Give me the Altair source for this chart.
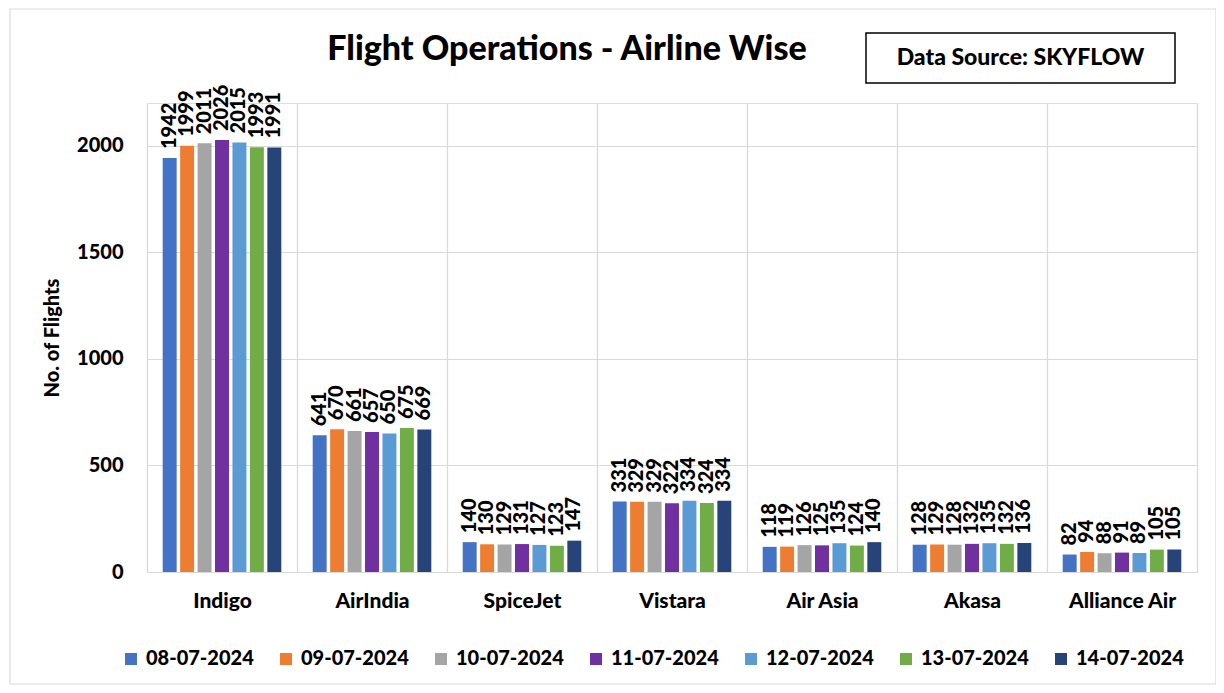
import altair as alt
import pandas as pd

airlines = ["Indigo", "AirIndia", "SpiceJet", "Vistara", "Air Asia", "Akasa", "Alliance Air"]
dates = ["08-07-2024", "09-07-2024", "10-07-2024", "11-07-2024", "12-07-2024", "13-07-2024", "14-07-2024"]
flights_0807 = [1942, 641, 140, 331, 118, 128, 82]
flights_0907 = [1999, 670, 130, 329, 119, 129, 94]
flights_1007 = [2011, 661, 129, 329, 126, 128, 88]
flights_1107 = [2026, 657, 131, 322, 125, 132, 91]
flights_1207 = [2015, 650, 127, 334, 135, 135, 89]
flights_1307 = [1993, 675, 123, 324, 124, 132, 105]
flights_1407 = [1991, 669, 147, 334, 140, 136, 105]
colors = ["#4472C4", "#ED7D31", "#A5A5A5", "#7030A0", "#5B9BD5", "#70AD47", "#264478"]

series = [flights_0807, flights_0907, flights_1007, flights_1107, flights_1207, flights_1307, flights_1407]
rows = []
for d, vals in zip(dates, series):
    for a, v in zip(airlines, vals):
        rows.append({"airline": a, "date": d, "flights": v})
df = pd.DataFrame(rows)

FONT = "Lato"
WT = 900
W, H = 1050, 469

x_enc = alt.X("airline:N", sort=airlines,
              scale=alt.Scale(paddingInner=0, paddingOuter=0),
              axis=alt.Axis(title=None, tickBand="extent", grid=True, gridColor="#d9d9d9",
                            gridWidth=1.3, ticks=False, domain=True, domainColor="#d9d9d9",
                            labelFont=FONT, labelFontWeight=WT, labelFontSize=21,
                            labelColor="#000000", labelPadding=18, labelAngle=0))
xo_enc = alt.XOffset("date:N", sort=dates, scale=alt.Scale(paddingInner=0.2, paddingOuter=0.9))
y_enc = alt.Y("flights:Q", scale=alt.Scale(domain=[0, 2200], nice=False),
              axis=alt.Axis(title="No. of Flights", values=[0, 500, 1000, 1500, 2000],
                            format="d",
                            grid=True, gridColor="#d9d9d9", gridWidth=1.2, ticks=False,
                            domain=False, labelFont=FONT, labelFontWeight=WT,
                            labelFontSize=20, labelColor="#000000", labelPadding=24,
                            titleFont=FONT, titleFontWeight=WT, titleFontSize=20,
                            titleColor="#000000", titlePadding=14))

bars = alt.Chart(df).mark_bar().encode(
    x=x_enc, xOffset=xo_enc, y=y_enc,
    color=alt.Color("date:N", sort=dates, scale=alt.Scale(domain=dates, range=colors),
                    legend=alt.Legend(title=None, orient="none", direction="horizontal",
                                      legendX=-26, legendY=546, symbolType="square",
                                      symbolSize=144, symbolStrokeWidth=0,
                                      labelFont=FONT, labelFontWeight=WT,
                                      labelFontSize=20, labelColor="#000000",
                                      labelOffset=5, columnPadding=22, labelLimit=200)),
)

labels = alt.Chart(df).mark_text(angle=270, align="left", baseline="middle", dx=9,
                                 font=FONT, fontWeight=WT, fontSize=20,
                                 color="#000000").encode(
    x=alt.X("airline:N", sort=airlines), xOffset=alt.XOffset("date:N", sort=dates),
    y="flights:Q", text="flights:Q")

one = pd.DataFrame({"k": [0]})
frame = alt.Chart(one).mark_rect(fill=None, stroke="#d9d9d9", strokeWidth=1.2).encode(
    x=alt.value(-137), x2=alt.value(1069), y=alt.value(-94), y2=alt.value(581))
title = alt.Chart(one).mark_text(text="Flight Operations - Airline Wise", font=FONT,
                                 fontWeight=WT, fontSize=34, color="#000000",
                                 align="center", baseline="middle").encode(
    x=alt.value(420), y=alt.value(-53))
box = alt.Chart(one).mark_rect(fill="white", stroke="#000000", strokeWidth=1.5).encode(
    x=alt.value(719), x2=alt.value(1028), y=alt.value(-70), y2=alt.value(-20))
box_text = alt.Chart(one).mark_text(text="Data Source: SKYFLOW", font=FONT, fontWeight=WT,
                                    fontSize=23, color="#000000", align="center",
                                    baseline="middle").encode(
    x=alt.value(873.5), y=alt.value(-45))

chart = alt.layer(frame, bars, labels, title, box, box_text).properties(
    width=W, height=H,
    autosize=alt.AutoSizeParams(type="none"),
    padding={"left": 139, "top": 95, "right": 19, "bottom": 113},
).configure_view(strokeWidth=0).configure(background="white")

chart.save("out.html", embed_options={"renderer": "svg", "actions": False})
